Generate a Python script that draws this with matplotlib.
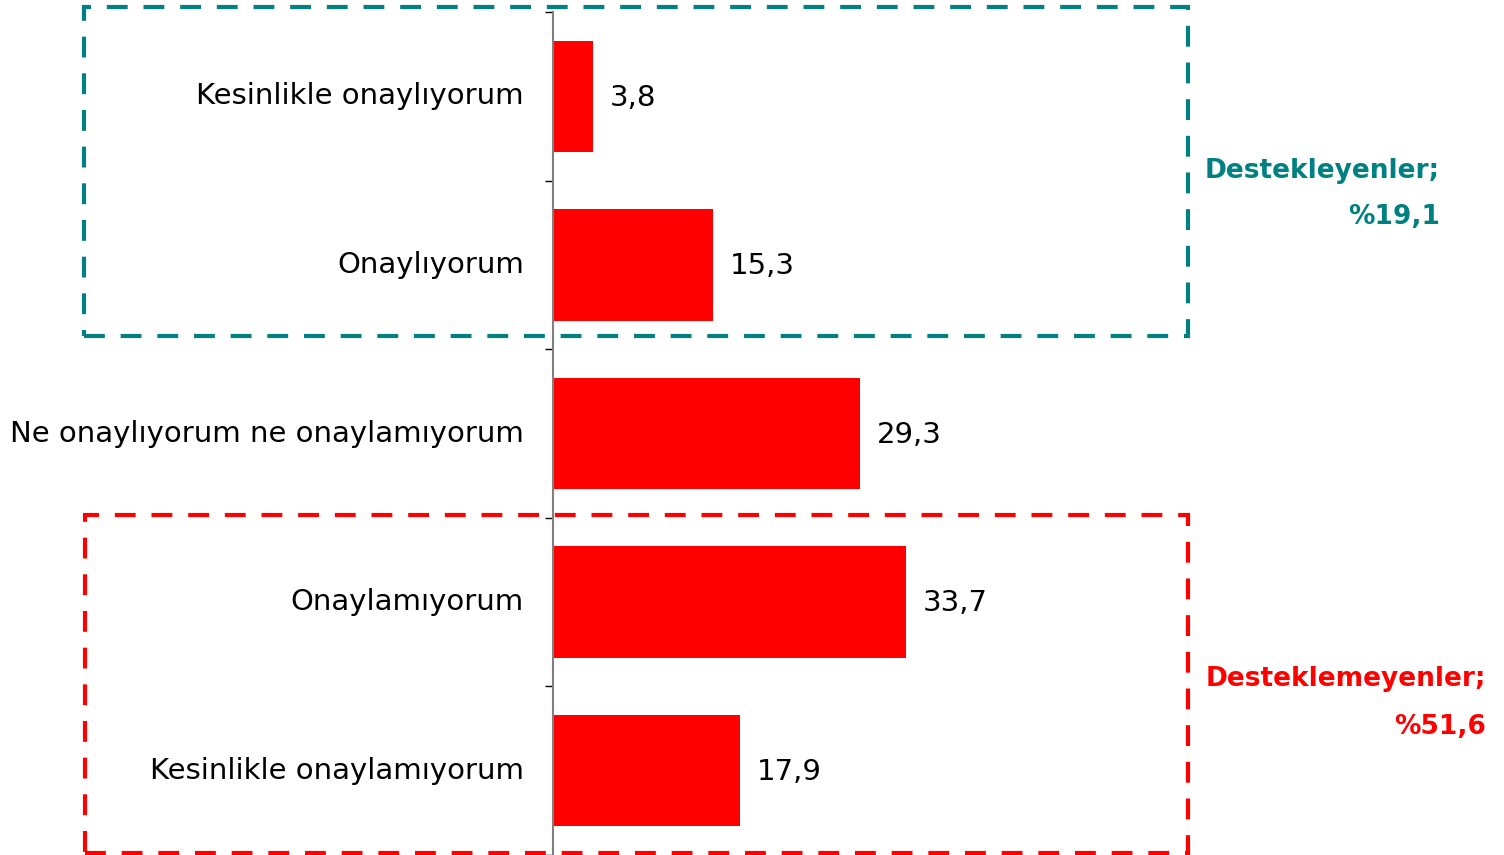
import matplotlib
matplotlib.use("Agg")
import matplotlib.pyplot as plt
from matplotlib.patches import Rectangle

# data
categories = ["Kesinlikle onaylıyorum", "Onaylıyorum",
              "Ne onaylıyorum ne onaylamıyorum", "Onaylamıyorum",
              "Kesinlikle onaylamıyorum"]
values = [3.8, 15.3, 29.3, 33.7, 17.9]
group_labels = ["Destekleyenler;\n%19,1", "Desteklemeyenler;\n%51,6"]
group_colors = ["#008080", "#FF0000"]

plt.rcParams['font.family'] = ['DejaVu Sans']

W, H = 1504, 855
fig = plt.figure(figsize=(W/100, H/100), dpi=100)
ax = fig.add_axes([553/W, 0, 1 - 553/W, (H - 12)/H])

pos = list(range(len(categories)))
ax.barh(pos, values, height=0.66, color="#FF0000")
ax.set_ylim(len(categories) - 0.5, -0.5)
ax.set_xlim(0, (W - 553)/10.47)

for p, v in zip(pos, values):
  ax.annotate(("%.1f" % v).replace(".", ","), (v, p), xytext=(12, -1),
              textcoords="offset points", va="center", ha="left", fontsize=21)

# category labels as text, ticks at the band boundaries
ax.set_yticks([p + 0.5 for p in [-1] + pos])
ax.set_yticklabels([])
ax.tick_params(axis='y', length=6, width=1, color="black")
for p, c in zip(pos, categories):
  ax.text(-29/10.47, p, c, ha="right", va="center", fontsize=21)

ax.set_xticks([])
for s in ["top", "right", "bottom"]:
  ax.spines[s].set_visible(False)
ax.spines["left"].set_color("#808080")
ax.spines["left"].set_linewidth(1.5)

# dashed group boxes (figure pixel coords)
boxes = [(84, 7, 1188, 336), (85, 515, 1188, 853)]
for (x0, y0, x1, y1), col in zip(boxes, group_colors):
  r = Rectangle((x0/W, 1 - y1/H), (x1 - x0)/W, (y1 - y0)/H,
                transform=fig.transFigure, fill=False, edgecolor=col,
                linewidth=3, linestyle=(0, (5, 3.8)), clip_on=False)
  fig.add_artist(r)

fig.text(1440/W, 1 - 194/H, group_labels[0], ha="right", va="center",
         color=group_colors[0], fontsize=19, fontweight="bold", linespacing=2.05)
fig.text(1486/W, 1 - 703/H, group_labels[1], ha="right", va="center",
         color=group_colors[1], fontsize=19, fontweight="bold", linespacing=2.05)

fig.savefig("out.png", dpi=100)
